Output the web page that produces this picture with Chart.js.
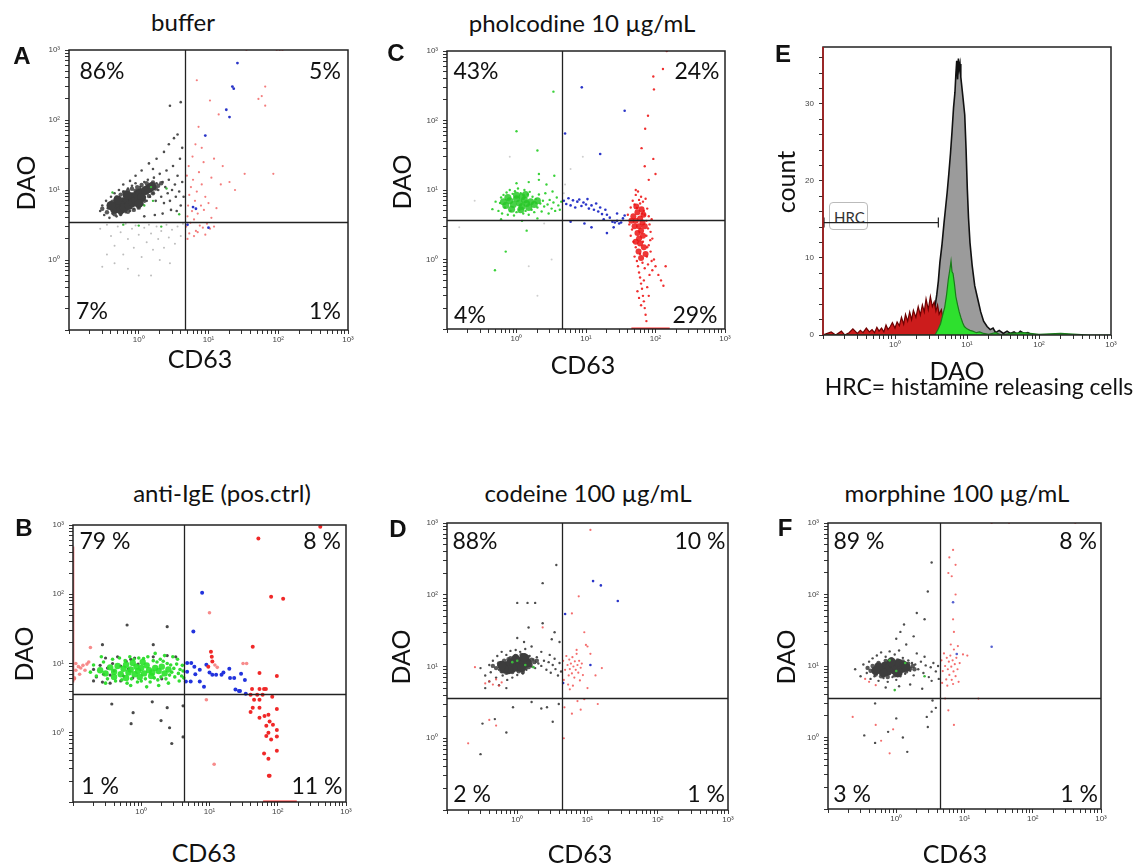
<!DOCTYPE html>
<html>
<head>
<meta charset="utf-8">
<script src="https://cdn.jsdelivr.net/npm/chart.js@4.4.0/dist/chart.umd.min.js"></script>
<style>
  body { margin: 0; width: 1145px; height: 866px; position: relative; overflow: hidden; background: #fff; font-family: Lato, "Open Sans", sans-serif; color: #111; }
  canvas { position: absolute; }
  .t { position: absolute; white-space: nowrap; line-height: 1; transform: translate(-50%, -50%); }
  .title { font-size: 24px; }
  .axis { font-size: 25px; }
  .rot { transform: translate(-50%, -50%) rotate(-90deg); }
  .pct { font-size: 23px; }
  .letter { font-family: "Liberation Sans", Arial, sans-serif; font-weight: bold; font-size: 24px; }
  .note { font-size: 23px; }
  .hrc { position: absolute; left: 829px; top: 202px; width: 33px; height: 15px; padding: 7px 0 4px 4px; border: 1px solid #bbb; border-radius: 4px; font-size: 15px; line-height: 1; color: #333; }
</style>
</head>
<body>
<div class="hrc">HRC</div>
<script>
// axis ticks
const logTicks = [0.1,0.2,0.3,0.4,0.5,0.6,0.7,0.8,0.9,1,2,3,4,5,6,7,8,9,10,20,30,40,50,60,70,80,90,100,200,300,400,500,600,700,800,900,1000];
const decadeLabels = { 1: '10⁰', 10: '10¹', 100: '10²', 1000: '10³' };
const countTicks = [0,2,4,6,8,10,12,14,16,18,20,22,24,26,28,30,32,34,36];
const countLabels = { 0: '0', 10: '10', 20: '20', 30: '30' };

// A: buffer  (x = CD63, y = DAO)
const bufferCore = [[0.45,5.3],[0.5,6.2],[0.55,5.2],[0.6,6.8],[0.62,5.6],[0.7,7.4],[0.72,6.0],[0.8,8.0],[0.82,6.6],[0.9,7.2],[0.95,8.6],[1.05,9.2],[1.1,7.8],[1.25,9.8],[1.4,10.5],[1.55,11.2],[0.5,7.2],[0.4,6.0],[0.68,8.5],[1.0,6.4]];
const bufferMid = [[0.35,4.8],[0.38,5.6],[0.42,6.8],[0.48,7.8],[0.55,8.6],[0.62,9.2],[0.7,9.8],[0.8,10.4],[0.95,11],[1.1,11.8],[1.3,12.5],[1.6,12.8],[1.75,10.5],[1.6,9.0],[1.4,8.2],[1.2,7.0],[1.0,5.6],[0.85,5.2],[0.7,4.9],[0.55,4.6],[0.45,4.5],[1.9,11.5],[2.1,12.5],[0.3,5.4],[0.9,9.8],[1.2,10.4]];
const bufferHalo = [[0.28,5.0],[0.3,6.0],[0.32,4.4],[0.34,7.0],[0.36,5.5],[0.38,4.0],[0.4,8.0],[0.42,4.6],[0.45,9.0],[0.48,4.2],[0.52,10],[0.55,4.4],[0.6,9.5],[0.65,4.8],[0.7,10.5],[0.75,5.0],[0.8,11.5],[0.85,5.4],[0.9,12.5],[1.0,5.6],[1.05,11],[1.15,6.2],[1.2,13],[1.3,7.0],[1.35,14],[1.45,8.0],[1.5,12],[1.6,9.0],[1.65,15],[1.75,7.0],[1.8,12.5],[1.9,10],[2.0,17],[2.1,8.0],[2.2,13],[2.3,6.5],[2.4,11],[2.5,19],[2.6,9.0],[2.7,14],[2.8,7.0],[3.0,10],[3.1,22],[3.3,12],[3.4,8.0],[3.6,16],[3.8,9.5],[4.0,6.0],[4.2,13],[4.4,8.0],[3.5,5.0],[2.9,5.2],[2.2,4.6],[1.7,4.4],[1.2,4.2],[0.9,16],[1.1,19],[1.4,24],[1.8,28],[2.3,35],[2.7,45],[3.2,55],[3.6,62],[2.8,160],[4.0,180],[4.2,40],[3.9,28],[0.6,12],[0.75,13.5],[1.6,20]];
const bufferLow = [[0.28,2.8],[0.35,3.2],[0.4,2.2],[0.45,1.6],[0.5,3.0],[0.55,2.5],[0.6,1.2],[0.65,3.3],[0.7,2.0],[0.8,2.8],[0.85,1.5],[0.9,3.1],[1.0,2.3],[1.1,1.1],[1.2,2.9],[1.3,1.8],[1.4,3.2],[1.5,2.4],[1.6,1.4],[1.8,3.0],[1.9,2.0],[2.1,2.6],[2.3,1.5],[2.5,3.2],[2.7,2.1],[3.0,2.7],[3.3,1.7],[3.6,3.0],[4.0,2.2],[4.3,3.3],[0.35,1.2],[0.45,0.9],[0.7,0.75],[1.0,0.6],[1.5,0.6],[0.3,0.8],[2.0,1.0],[2.8,0.9]];
const bufferGreen = [[0.42,9.2],[1.2,6.0],[1.5,11],[2.1,3.0],[1.0,3.1],[3.8,4.5],[2.5,10.5],[0.6,3.2],[1.6,7]];
const bufferRed = [[4.8,3.0],[5.0,4.2],[5.1,6.0],[5.3,8.5],[5.5,3.4],[5.6,11],[5.8,5.0],[6.0,14],[6.2,3.8],[6.4,7.0],[6.6,2.6],[6.8,9.5],[7.0,4.6],[7.3,18],[7.5,3.1],[7.8,6.0],[8.0,12],[8.3,2.9],[8.6,5.2],[9.0,8.0],[9.5,3.3],[10,6.5],[10.5,2.8],[11,4.0],[12,3.0],[13,5.5],[5.2,22],[5.9,30],[6.5,45],[4.9,16],[8.5,25],[11,15],[16,22],[20,13],[5.3,2.4],[6.2,2.2],[7,2.5],[9,2.3],[5,2.0],[65,300],[58,220],[52,200],[65,160],[10.5,190],[33,17],[85,17],[24,10],[6.8,370],[12,28],[15,12],[8,40],[7.2,80],[14,120],[35,1000],[95,1000],[105,1000],[115,1000]];
const bufferBlue = [[26,650],[22,300],[23,280],[18,140],[20,110],[9,60],[6,5.7],[6.6,5.4],[5,3.2],[10,2.9]];

// C: pholcodine 10 µg/mL
const pholGreenCore = [[0.7,6.0],[0.8,7.0],[0.9,6.2],[1.0,7.5],[1.1,6.5],[1.2,5.8],[1.3,7.2],[1.4,6.4],[0.85,5.3],[1.0,8.4],[1.2,8.0],[1.6,6.8],[0.75,7.8],[1.5,5.6],[1.8,6.2],[0.65,6.8],[1.15,5.2],[1.35,8.6],[2.0,7.0]];
const pholGreen = [[0.55,5.0],[0.58,6.5],[0.6,7.8],[0.62,4.6],[0.65,8.5],[0.68,5.6],[0.72,9.2],[0.75,4.4],[0.8,10],[0.82,5.0],[0.88,8.8],[0.92,4.3],[0.95,9.6],[1.0,4.8],[1.05,10.5],[1.1,5.2],[1.15,9.0],[1.25,4.6],[1.3,10],[1.35,5.0],[1.45,8.6],[1.5,4.4],[1.55,9.4],[1.65,5.2],[1.7,8.0],[1.8,4.8],[1.9,7.4],[2.0,5.6],[2.1,8.6],[2.2,6.4],[2.3,4.9],[2.4,7.0],[2.5,5.8],[2.6,9.0],[2.8,6.2],[2.9,4.6],[3.0,7.2],[3.2,5.4],[3.4,6.6],[3.6,5.0],[3.8,7.8],[4.0,6.0],[4.2,5.2],[4.4,6.8],[3.3,9.5],[2.7,12],[2.1,14],[1.5,13],[1.0,12.5],[3.5,16],[2.1,17],[2.0,37],[1.0,70],[3.4,260],[0.49,0.7],[0.6,3.8],[1.2,3.6],[2.0,3.9],[0.7,1.3],[1.4,2.6],[0.45,5.3],[0.5,6.8]];
const pholBlue = [[4.8,7.0],[5.2,6.3],[5.6,7.6],[6.0,6.0],[6.5,7.1],[7.0,5.6],[7.5,6.8],[8.0,7.3],[8.6,5.9],[9.2,6.6],[10,6.2],[10.5,7.4],[11,5.4],[12,6.0],[13,5.2],[14,6.4],[15,4.9],[16,5.6],[17,4.5],[18,3.8],[19,5.2],[20,4.4],[22,4.0],[24,3.5],[26,3.4],[28,3.6],[30,3.3],[32,3.4],[34,3.9],[36,4.3],[25,2.9],[20,2.4],[28,4.6],[8.7,300],[16,33],[36,138],[5.0,65],[6,3.5],[9.5,3.3],[12,2.9]];
const pholRedCore = [[48,4.2],[52,3.6],[55,4.8],[58,3.0],[60,3.9],[62,2.6],[65,3.4],[55,2.4],[50,3.0],[58,2.0],[66,2.2],[60,1.7],[68,1.5],[57,1.3],[63,5.3],[70,3.0],[45,3.6],[72,1.2],[62,1.05],[53,5.8],[67,4.4],[52,1.8]];
const pholRed = [[40,4.4],[42,3.2],[44,5.6],[46,2.7],[47,7.0],[50,6.2],[52,8.5],[54,5.5],[56,9.5],[58,7.2],[60,6.4],[62,8.0],[64,4.6],[66,6.8],[68,5.0],[70,4.4],[72,7.5],[74,3.6],[76,5.4],[78,2.8],[80,4.2],[82,3.2],[85,2.5],[88,3.8],[90,2.0],[44,2.2],[48,1.8],[52,1.5],[50,1.1],[54,0.95],[56,0.8],[58,0.65],[60,0.55],[62,0.45],[64,0.38],[66,0.3],[68,0.25],[70,0.2],[72,0.16],[74,0.13],[60,1.2],[65,0.9],[70,0.75],[75,1.1],[78,0.85],[80,1.6],[82,0.6],[85,1.3],[88,0.95],[90,0.7],[95,1.0],[100,0.8],[110,0.6],[120,0.5],[130,0.42],[140,0.8],[66,1.8],[74,2.2],[76,1.5],[84,1.9],[55,0.35],[68,0.5],[58,0.28],[62,0.22],[76,0.4],[80,0.3],[128,550],[93,430],[95,280],[78,117],[71,76],[93,28],[63,40],[100,17],[52,10],[80,14],[70,22],[145,1000]];
const pholRedFloor = [[45,0.1],[160,0.1]];
const pholFaint = [[0.15,2.9],[3.2,1.0],[2.5,3.3],[0.8,30],[1.5,0.8],[2.0,0.3],[6,20],[5,12],[9,30],[4.8,9],[0.25,7]];

// B: anti-IgE (pos.ctrl)
const igeGreenCore = [[0.25,8.0],[0.3,7.2],[0.35,8.8],[0.4,7.6],[0.45,9.2],[0.5,7.0],[0.55,8.4],[0.6,9.6],[0.65,7.4],[0.7,8.2],[0.8,7.0],[0.85,9.0],[0.9,7.8],[1.0,8.6],[1.1,7.2],[1.2,9.4],[1.3,8.0],[1.45,7.4],[1.6,8.6],[1.8,7.8],[2.0,9.0],[2.2,7.2],[2.5,8.2],[0.75,10.2],[1.05,10.5],[0.4,6.4],[0.95,6.4],[1.4,6.6],[0.6,6.2]];
const igeGreen = [[0.18,7.5],[0.2,9.5],[0.22,6.6],[0.28,10.5],[0.32,6.0],[0.38,11.5],[0.42,5.6],[0.48,12],[0.52,5.8],[0.58,11],[0.62,5.2],[0.68,12.5],[0.72,6.0],[0.78,11.5],[0.88,5.4],[0.92,12],[1.0,5.6],[1.08,11.8],[1.15,6.0],[1.25,12.5],[1.35,5.4],[1.5,11],[1.55,6.2],[1.7,10.5],[1.75,5.8],[1.9,11.5],[1.95,6.4],[2.1,10.8],[2.3,6.0],[2.4,10],[2.6,6.8],[2.7,9.5],[2.8,7.5],[3.0,8.5],[3.1,6.4],[3.3,9.8],[3.5,7.2],[3.7,8.2],[3.9,6.6],[4.1,7.8],[4.0,9.4],[3.4,11.5],[2.9,12.5],[2.2,13],[1.6,14],[3.6,5.6],[2.5,5.2],[1.8,4.8],[1.2,4.6],[0.7,4.8],[0.3,5.2],[4.2,6.2],[0.26,12.5]];
const igeGray = [[0.2,8.2],[0.22,6.4],[0.25,9.4],[0.28,7.0],[0.3,12],[0.32,8.6],[0.35,6.8],[0.38,10],[0.4,7.8],[0.45,12.5],[0.5,9.2],[0.55,6.6],[0.6,10.8],[0.65,8.4],[0.7,11.5],[0.75,6.2],[0.8,12],[0.9,9.8],[0.2,5.6],[0.27,5.4],[0.35,5.2],[0.5,5.6],[1.5,12.5],[2.0,6.0],[2.4,13],[3.2,12.5],[0.62,36],[2.4,34],[0.27,18.7],[1.5,18.7],[0.37,2.6],[0.76,1.95],[0.71,1.35],[1.45,2.8],[1.95,1.5],[2.4,2.3],[2.6,1.18],[2.8,0.7],[4.1,2.45],[4.1,0.87]];
const igeBlue = [[5.8,29],[4.7,10.2],[5.4,10.2],[4.7,7.6],[4.5,5.5],[5.3,5.5],[7.2,5.5],[7.2,8.1],[9,9.6],[8.3,4.6],[11,6.9],[12.5,6.9],[15,6.9],[19.5,8.4],[20,6.2],[23,6.2],[29,7.1],[33,5.8],[27,4.0],[28,4.0],[34,3.66],[7.8,105],[6.2,7.0],[10,7.4],[16,7.4],[24,4.2],[6,9.0]];
const igeRed = [[10.5,14.8],[10.8,12.5],[11,10.7],[9.6,9.0],[43,17.4],[54,7.3],[97,6.6],[42,4.3],[54,4.3],[63,4.3],[67,4.3],[40,3.55],[50,3.55],[60,3.55],[83,3.3],[45,3.0],[54,3.0],[43,2.3],[54,2.3],[40,2.0],[64,1.75],[73,1.82],[97,2.2],[54,1.65],[76,1.45],[68,1.26],[85,1.3],[97,1.1],[73,1.0],[68,0.9],[80,0.8],[97,0.88],[63,0.5],[97,0.55],[73,0.42],[74,0.24],[76,0.24],[420,940],[52,640],[80,92],[120,86]];
const igePink = [[10,54],[35,10],[31,10],[12,9.5],[13,8.8],[9,3.0],[11.7,0.35],[0.18,17],[0.105,6.0],[0.11,8.0],[0.12,9.0],[0.125,7.0],[0.13,8.6],[0.14,9.4],[0.15,8.0],[0.16,9.8],[0.17,10.5],[0.11,10],[0.105,6.2]];
const igeRedEdge = [[0.102,5.3],[0.102,490]];
const igeRedFloor = [[61,0.1],[190,0.1]];

// D: codeine 100 µg/mL
const codCore = [[0.7,10.2],[0.8,11.2],[0.85,9.4],[0.9,10.8],[1.0,11.8],[1.0,9.8],[1.1,10.6],[1.2,11.8],[1.3,12.4],[0.75,9.0],[0.95,12.8],[1.15,9.6],[0.65,9.2],[1.4,11.2],[0.6,10.4],[1.25,13.4]];
const codMid = [[0.5,9.5],[0.55,11],[0.6,8.6],[0.65,12],[0.7,8.2],[0.8,13],[0.85,8.4],[0.95,14],[1.05,8.6],[1.15,14.5],[1.3,9.6],[1.4,13.6],[1.55,10.6],[1.6,12.4],[1.75,11.5],[0.45,10.2],[1.9,12],[1.2,8.4],[0.75,12.6],[1.45,9.8]];
const codGray = [[0.3,9.5],[0.35,7.5],[0.4,10.5],[0.42,8.3],[0.45,12],[0.5,7.0],[0.52,14],[0.55,9.0],[0.6,16],[0.62,7.5],[0.7,14.5],[0.72,6.5],[0.8,16.5],[0.85,7.0],[0.95,17],[1.0,7.6],[1.1,16],[1.2,8.0],[1.3,17.5],[1.35,9.0],[1.5,14],[1.6,10],[1.7,12.5],[1.8,9.5],[1.9,13.5],[2.0,11],[2.2,10.2],[2.4,12],[2.6,9.0],[2.8,11.5],[3.0,8.2],[3.2,10.5],[3.5,9.2],[3.8,7.5],[4.0,11.2],[4.2,8.5],[3.4,12.8],[2.9,14.5],[2.2,16],[1.6,19],[1.25,22],[1.0,25],[1.45,35],[2.3,40],[3.4,30],[3.1,24],[4.0,22],[1.8,77],[1.4,77],[1.0,77],[2.3,145],[3.6,260],[0.35,5.0],[0.4,6.2],[0.55,5.5],[0.7,5.0],[0.32,1.6],[0.3,0.6],[0.48,1.85],[0.7,1.2],[3.2,1.7],[0.87,2.7],[2.65,2.7],[1.6,3.2],[3.9,3.0],[2.2,2.6]];
const codRed = [[4.5,12],[4.8,9.0],[5.0,14],[5.2,10.5],[5.4,7.5],[5.5,12.5],[5.6,9.2],[5.8,11],[6.0,8.0],[6.1,13.5],[6.3,10],[6.5,7.0],[6.6,11.8],[6.8,9.0],[7.0,15],[7.2,10.5],[7.4,8.2],[7.6,12],[7.8,6.4],[8.0,9.6],[8.3,11],[8.6,7.6],[4.6,6.5],[5.3,5.6],[6.2,5.4],[7,17],[9.5,20],[10,19],[11,15],[5.6,4.8],[7.2,3.3],[8,2.5],[9,3.5],[14,3.0],[4.7,2.7],[6,2.2],[16,9.5],[10,5],[13,7.5],[9,30],[7.5,95],[6,55],[11,800],[0.4,6.2],[0.45,5.6],[0.5,6.6],[0.55,5.4],[0.6,6.0],[0.35,5.8],[0.25,9.8],[0.2,0.85],[0.5,1.5],[0.4,1.8],[4.6,1.0],[2.3,35]];
const codBlue = [[12,155],[15.5,135],[27,82],[11,10.5],[4.8,54],[4.5,5.9]];
const codGreen = [[1.0,12],[1.3,10.5],[0.85,11.5],[1.7,9.8]];

// F: morphine 100 µg/mL
const morCore = [[0.6,9.0],[0.7,10],[0.75,8.4],[0.8,9.6],[0.9,10.6],[0.95,8.8],[1.0,9.8],[1.1,10.8],[1.2,9.2],[1.3,10.2],[0.65,8.0],[0.85,11.4],[0.55,9.8],[1.05,8.0],[1.4,9.6],[0.5,8.6]];
const morMid = [[0.42,8.6],[0.45,10],[0.5,7.6],[0.55,11],[0.6,7.2],[0.7,11.8],[0.75,7.0],[0.85,12.4],[0.95,7.4],[1.05,12],[1.15,7.8],[1.25,11.6],[1.4,8.4],[1.5,10.8],[1.6,9.2],[1.75,10],[0.65,10.6],[1.2,9.6],[0.38,9.4],[1.85,9.0]];
const morGray = [[0.25,9.0],[0.3,7.2],[0.33,10.5],[0.37,8.0],[0.4,11.5],[0.42,6.6],[0.45,12.8],[0.48,7.2],[0.52,14],[0.55,6.2],[0.6,15.5],[0.65,6.8],[0.7,13.5],[0.75,6.0],[0.8,16],[0.88,7.0],[0.95,14.5],[1.0,6.4],[1.1,16.5],[1.15,7.2],[1.25,13],[1.35,7.8],[1.5,12],[1.6,8.6],[1.7,11],[1.8,7.4],[1.9,10.5],[2.1,9.0],[2.3,11.5],[2.5,8.0],[2.7,10.2],[3.0,7.0],[3.2,9.6],[3.5,11],[3.8,8.4],[4.1,10],[4.2,6.6],[3.3,6.2],[2.6,13.5],[2.0,15],[1.4,20],[1.0,24],[1.15,30],[1.8,26],[2.6,45],[2.0,55],[2.9,110],[3.3,280],[1.3,38],[0.7,5.0],[1.1,5.2],[1.6,5.5],[2.4,4.8],[0.34,1.07],[0.49,3.0],[0.49,0.84],[0.76,1.2],[1.25,1.0],[1.45,0.63],[1.0,1.85],[2.8,1.94],[3.3,2.3],[3.4,3.3],[2.9,1.4],[3.8,2.6]];
const morRed = [[4.6,12],[4.8,8.5],[5.0,15],[5.2,10],[5.4,6.5],[5.5,13],[5.7,9.0],[5.9,11.5],[6.0,7.5],[6.2,14],[6.4,9.8],[6.5,6.4],[6.7,12],[6.9,8.4],[7.0,17],[7.2,10.6],[7.4,7.2],[7.6,13],[7.9,9.0],[8.2,6.0],[8.5,11],[4.7,5.8],[5.6,5.3],[6.8,5.6],[8.0,19],[6.3,20],[7,30],[6.8,45],[5.8,200],[6.0,330],[7.4,100],[11,14],[9.5,14.5],[16,3.5],[5.8,2.4],[7,1.5],[5.2,3.5],[6.8,420],[7.4,260],[6.5,180],[0.4,6.0],[0.5,5.4],[0.35,6.6],[0.23,1.94],[0.5,1.5],[0.9,1.3],[0.6,0.9],[0.8,0.6],[25,1000],[45,1000],[420,1000]];
const morBlue = [[6.8,78],[25,18.6],[7.7,14.7]];
const morGreen = [[0.8,12],[1.0,8.5],[1.35,11],[2.6,7.2],[0.95,4.6]];

// E: DAO histogram (count per DAO bin)
const histGrayX = [3.2,3.5,3.8,4.0,4.2,4.5,4.8,5.0,5.3,5.6,5.9,6.2,6.5,6.8,7.0,7.2,7.4,7.6,7.8,8.0,8.2,8.4,8.8,9.3,9.7,10.1,10.5,11,11.8,12.8,14,15.5,17,19,21,23,25,28,32,36,40,45,50,55,62,70,80,100];
const histGrayY = [0,3.0,5.2,7.0,9.4,11.8,14.6,16.2,18.5,21,23.6,26.5,29.5,31.5,33.8,35.6,33.2,35.9,34.6,35.2,33.5,32.6,30.8,28.6,24.2,19.0,15.2,12.0,9.0,6.4,4.8,3.0,1.8,1.1,0.7,0.9,0.3,0.6,0.2,0.5,0.2,0.4,0.1,0.5,0.2,0.3,0,0];
const histRedX = [0.1,0.13,0.15,0.18,0.2,0.23,0.26,0.3,0.33,0.36,0.4,0.44,0.48,0.52,0.56,0.6,0.65,0.7,0.75,0.8,0.86,0.92,1.0,1.07,1.15,1.23,1.32,1.4,1.5,1.6,1.7,1.8,1.95,2.1,2.25,2.4,2.55,2.7,2.9,3.1,3.3,3.5,3.7,3.9,4.1,4.4,4.7,5.0,5.3];
const histRedY = [0,0.4,0,0.5,0,0.3,0.8,0.2,0.6,0.3,0.9,0.4,0.7,0.3,1.0,0.5,0.9,0.4,1.3,0.7,1.1,1.6,0.9,1.7,1.2,2.3,1.4,2.7,1.8,3.0,2.0,3.2,2.3,3.7,2.6,3.9,3.0,4.7,3.3,5.0,3.7,4.3,3.1,3.9,2.7,3.3,1.9,1.0,0];
const histGreenX = [0.1,3.6,4.0,4.3,4.6,4.9,5.2,5.5,5.8,6.0,6.2,6.4,6.7,7.0,7.4,7.8,8.2,8.7,9.2,10,11,12,13.5,15,17,20,25,30,40,60,100,200,500,1000];
const histGreenY = [0,0,0.8,1.5,2.6,3.6,5.2,7.2,8.6,9.6,8.2,8.0,6.6,5.0,3.9,3.0,2.3,1.6,1.1,0.8,0.6,0.5,0.3,0.4,0.2,0.1,0.3,0,0.2,0.3,0.1,0.2,0,0];
const hrcGate = [0.1, 4.0];
const hrcLevel = 14.6;

Chart.defaults.animation = false;
Chart.defaults.font.family = "'Liberation Sans', Arial, sans-serif";

const PAD = 8;

function makeCanvas(box, fitY, fitX) {
  const [l, t, r, b] = box;
  const c = document.createElement('canvas');
  c.width = r - l + fitY + PAD;
  c.height = b - t + PAD + fitX;
  c.style.left = (l - fitY) + 'px';
  c.style.top = (t - PAD) + 'px';
  document.body.appendChild(c);
  return c;
}

function xAxis(type, min, max, tickValues, labels, fit) {
  return {
    type, min, max, position: 'bottom',
    afterBuildTicks: s => { s.ticks = tickValues.map(v => ({ value: v })); },
    ticks: { autoSkip: false, maxRotation: 0, minRotation: 0, padding: 1, color: '#444', font: { size: 8 },
             callback: v => labels[v] || '' },
    grid: { drawOnChartArea: false, drawTicks: true, tickLength: 4, color: '#333' },
    border: { display: false },
    afterFit: s => { s.height = fit; s.paddingLeft = 0; s.paddingRight = 0; }
  };
}

function yAxis(type, min, max, tickValues, labels, fit) {
  return {
    type, min, max, position: 'left',
    afterBuildTicks: s => { s.ticks = tickValues.map(v => ({ value: v })); },
    ticks: { autoSkip: false, padding: 5, color: '#444', font: { size: 8 },
             callback: v => labels[v] || '' },
    grid: { drawOnChartArea: false, drawTicks: true, tickLength: 4, color: '#333' },
    border: { display: false },
    afterFit: s => { s.width = fit; s.paddingTop = 0; s.paddingBottom = 0; }
  };
}

const framePlugin = {
  id: 'frame',
  afterDatasetsDraw(chart, args, opts) {
    const { ctx, chartArea: a, scales } = chart;
    ctx.save();
    ctx.strokeStyle = '#222';
    ctx.lineWidth = 1.3;
    if (opts.gx) {
      const px = Math.round(scales.x.getPixelForValue(opts.gx)) + 0.5;
      ctx.beginPath(); ctx.moveTo(px, a.top); ctx.lineTo(px, a.bottom); ctx.stroke();
    }
    if (opts.gy) {
      const py = Math.round(scales.y.getPixelForValue(opts.gy)) + 0.5;
      ctx.beginPath(); ctx.moveTo(a.left, py); ctx.lineTo(a.right, py); ctx.stroke();
    }
    if (opts.hrc) {
      const y0 = scales.y.getPixelForValue(opts.hrc.level);
      const x0 = scales.x.getPixelForValue(opts.hrc.gate[0]);
      const x1 = scales.x.getPixelForValue(opts.hrc.gate[1]);
      ctx.lineWidth = 1.2;
      ctx.beginPath();
      ctx.moveTo(x0, y0); ctx.lineTo(x1, y0);
      ctx.moveTo(x1, y0 - 5); ctx.lineTo(x1, y0 + 5);
      ctx.moveTo(x0 + 1, y0 - 5); ctx.lineTo(x0 + 1, y0 + 5);
      ctx.stroke();
    }
    ctx.lineWidth = 1.5;
    ctx.strokeRect(a.left, a.top, a.width, a.height);
    if (opts.leftColor) {
      ctx.strokeStyle = opts.leftColor;
      ctx.beginPath(); ctx.moveTo(a.left, a.top); ctx.lineTo(a.left, a.bottom); ctx.stroke();
    }
    ctx.restore();
  }
};

const toPts = arr => arr.map(p => ({ x: p[0], y: p[1] }));

// dataset lists are top-first (first one is drawn on top)
const scatterPanels = [
  { box: [69, 50, 348, 330], gx: 4.6, gy: 3.5, sets: [
    { d: bufferBlue, c: '#2a35c8', r: 1.4 },
    { d: bufferRed, c: 'rgba(240,70,70,0.7)', r: 1.1 },
    { d: bufferGreen, c: '#3cb83c', r: 1.2 },
    { d: bufferCore, c: '#3d3d3d', r: 4.5 },
    { d: bufferMid, c: 'rgba(60,60,60,0.85)', r: 2.2 },
    { d: bufferHalo, c: '#4d4d4d', r: 1.3 },
    { d: bufferLow, c: '#bdbdbd', r: 1.0 } ] },
  { box: [447, 51, 725, 329], gx: 4.5, gy: 3.7, sets: [
    { line: pholRedFloor, c: '#ff3030', w: 3 },
    { d: pholRedCore, c: 'rgba(235,20,20,0.85)', r: 3 },
    { d: pholRed, c: '#f03030', r: 1.2 },
    { d: pholBlue, c: '#2a35c8', r: 1.3 },
    { d: pholGreenCore, c: 'rgba(40,200,40,0.85)', r: 3.5 },
    { d: pholGreen, c: '#3ad23a', r: 1.2 },
    { d: pholFaint, c: '#cfcfcf', r: 1.0 } ] },
  { box: [73, 525, 346, 802], gx: 4.2, gy: 3.66, sets: [
    { line: igeRedFloor, c: '#ff2a2a', w: 3 },
    { line: igeRedEdge, c: '#f07070', w: 1.5 },
    { d: igeRed, c: '#f02828', r: 2 },
    { d: igePink, c: 'rgba(245,110,110,0.8)', r: 1.8 },
    { d: igeBlue, c: '#2233dd', r: 2 },
    { d: igeGreenCore, c: 'rgba(40,225,40,0.9)', r: 3.2 },
    { d: igeGreen, c: '#33dd33', r: 1.8 },
    { d: igeGray, c: '#4a4a4a', r: 1.6 } ] },
  { box: [447, 523, 728, 810], gx: 4.34, gy: 3.64, sets: [
    { d: codBlue, c: '#2a35c8', r: 1.3 },
    { d: codGreen, c: '#3cb83c', r: 1.3 },
    { d: codRed, c: 'rgba(240,60,60,0.75)', r: 1.1 },
    { d: codCore, c: '#3d3d3d', r: 4.5 },
    { d: codMid, c: 'rgba(60,60,60,0.85)', r: 2.2 },
    { d: codGray, c: '#4d4d4d', r: 1.2 } ] },
  { box: [828, 523, 1101, 809], gx: 4.38, gy: 3.57, sets: [
    { d: morBlue, c: '#5560d0', r: 1.3 },
    { d: morGreen, c: '#3cb83c', r: 1.3 },
    { d: morRed, c: 'rgba(240,60,60,0.75)', r: 1.1 },
    { d: morCore, c: '#3d3d3d', r: 4.5 },
    { d: morMid, c: 'rgba(60,60,60,0.85)', r: 2.2 },
    { d: morGray, c: '#4d4d4d', r: 1.2 } ] }
];

scatterPanels.forEach(p => {
  const canvas = makeCanvas(p.box, 45, 28);
  const datasets = p.sets.map(s => s.line
    ? { data: toPts(s.line), showLine: true, borderColor: s.c, borderWidth: s.w, pointRadius: 0 }
    : { data: toPts(s.d), pointRadius: s.r, backgroundColor: s.c, borderWidth: 0 });
  new Chart(canvas, {
    type: 'scatter',
    data: { datasets },
    options: {
      responsive: false, events: [],
      layout: { padding: { top: PAD, right: PAD, left: 0, bottom: 0 } },
      plugins: { legend: { display: false }, tooltip: { enabled: false }, frame: { gx: p.gx, gy: p.gy } },
      scales: {
        x: xAxis('logarithmic', 0.1, 1000, logTicks, decadeLabels, 28),
        y: yAxis('logarithmic', 0.1, 1000, logTicks, decadeLabels, 45)
      }
    },
    plugins: [framePlugin]
  });
});

// E: histogram
const histCanvas = makeCanvas([823, 47, 1111, 335], 45, 28);
const zip = (xs, ys) => xs.map((x, i) => ({ x, y: ys[i] }));
new Chart(histCanvas, {
  type: 'line',
  data: { datasets: [
    { data: zip(histGreenX, histGreenY), borderColor: '#1b7a1b', borderWidth: 1.2, backgroundColor: '#2ee02e', fill: 'origin', pointRadius: 0 },
    { data: zip(histRedX, histRedY), borderColor: '#6e0000', borderWidth: 1.2, backgroundColor: '#cc1c1c', fill: 'origin', pointRadius: 0 },
    { data: zip(histGrayX, histGrayY), borderColor: '#111', borderWidth: 1.6, backgroundColor: '#9b9b9b', fill: 'origin', pointRadius: 0 }
  ] },
  options: {
    responsive: false, events: [],
    layout: { padding: { top: PAD, right: PAD, left: 0, bottom: 0 } },
    plugins: { legend: { display: false }, tooltip: { enabled: false },
               frame: { hrc: { gate: hrcGate, level: hrcLevel }, leftColor: '#b01818' } },
    scales: {
      x: xAxis('logarithmic', 0.1, 1000, logTicks, decadeLabels, 28),
      y: yAxis('linear', 0, 37.4, countTicks, countLabels, 45)
    }
  },
  plugins: [framePlugin]
});

// text
const texts = [
  ['buffer', 183, 22, 'title'], ['pholcodine 10 µg/mL', 582, 23, 'title'],
  ['anti-IgE (pos.ctrl)', 222, 493, 'title'], ['codeine 100 µg/mL', 588, 493, 'title'], ['morphine 100 µg/mL', 957, 493, 'title'],
  ['A', 22, 56, 'letter'], ['C', 396, 53, 'letter'], ['E', 783, 54, 'letter'],
  ['B', 24, 528, 'letter'], ['D', 398, 529, 'letter'], ['F', 785, 528, 'letter'],
  ['CD63', 200, 358, 'axis'], ['CD63', 583, 364, 'axis'], ['DAO', 957, 370, 'axis'],
  ['CD63', 204, 852, 'axis'], ['CD63', 580, 853, 'axis'], ['CD63', 955, 853, 'axis'],
  ['DAO', 25, 183, 'axis rot'], ['DAO', 401, 182, 'axis rot'], ['count', 785, 182, 'axis rot'],
  ['DAO', 23, 654, 'axis rot'], ['DAO', 400, 657, 'axis rot'], ['DAO', 785, 657, 'axis rot'],
  ['86%', 102, 70, 'pct'], ['5%', 325, 70, 'pct'], ['7%', 92, 310, 'pct'], ['1%', 325, 310, 'pct'],
  ['43%', 476, 70, 'pct'], ['24%', 697, 70, 'pct'], ['4%', 470, 314, 'pct'], ['29%', 695, 314, 'pct'],
  ['79 %', 105, 540, 'pct'], ['8 %', 322, 540, 'pct'], ['1 %', 100, 785, 'pct'], ['11 %', 317, 785, 'pct'],
  ['88%', 475, 540, 'pct'], ['10 %', 700, 540, 'pct'], ['2 %', 472, 793, 'pct'], ['1 %', 706, 793, 'pct'],
  ['89 %', 859, 540, 'pct'], ['8 %', 1078, 540, 'pct'], ['3 %', 852, 793, 'pct'], ['1 %', 1079, 793, 'pct'],
  ['HRC= histamine releasing cells', 979, 386, 'note']
];
texts.forEach(([s, x, y, cls]) => {
  const el = document.createElement('div');
  el.className = 't ' + cls;
  el.textContent = s;
  el.style.left = x + 'px';
  el.style.top = y + 'px';
  document.body.appendChild(el);
});
</script>
</body>
</html>
